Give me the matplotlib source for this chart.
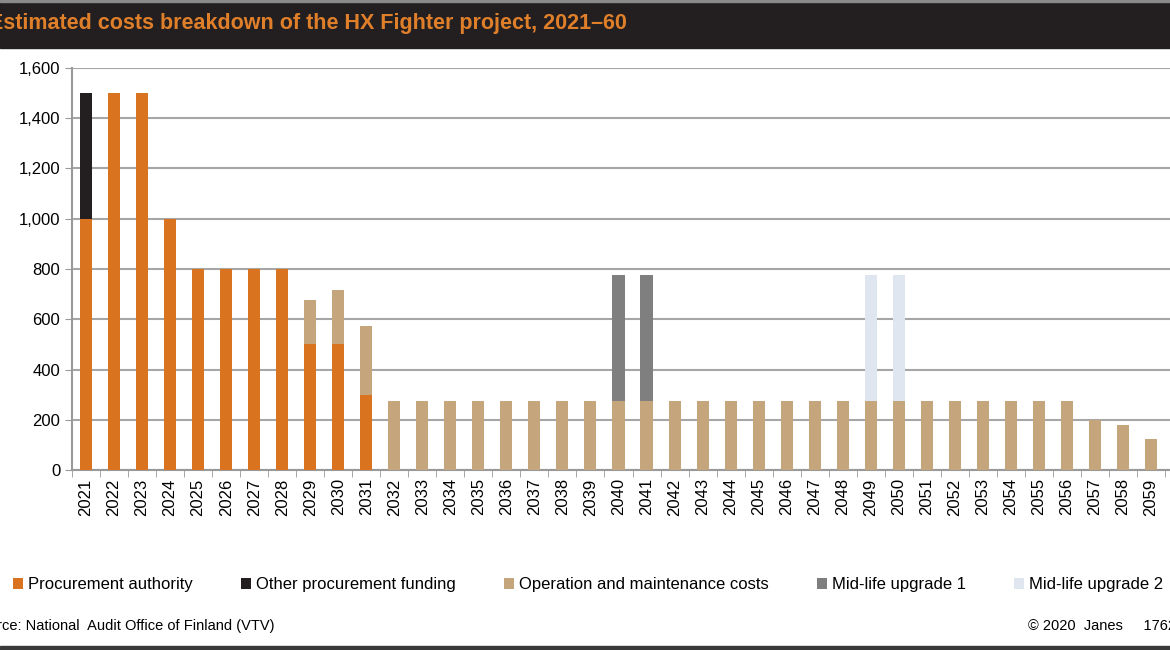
import matplotlib.pyplot as plt
import numpy as np

years = list(range(2021, 2061))
procurement = [1000, 1500, 1500, 1000, 800, 800, 800, 800, 500, 500, 300] + [0] * 29
other_funding = [500] + [0] * 39
om_costs = [0] * 8 + [175, 215, 275] + [275] * 25 + [200, 180, 125, 100]
mlu1 = [0] * 40
mlu1[years.index(2040)] = 500
mlu1[years.index(2041)] = 500
mlu2 = [0] * 40
mlu2[years.index(2049)] = 500
mlu2[years.index(2050)] = 500

series = [
    ("Procurement authority", procurement, "#d9731f"),
    ("Other procurement funding", other_funding, "#231f20"),
    ("Operation and maintenance costs", om_costs, "#c4a57c"),
    ("Mid-life upgrade 1", mlu1, "#7f7f7f"),
    ("Mid-life upgrade 2", mlu2, "#dfe6f0"),
]

W, H = 1170, 650
fig = plt.figure(figsize=(W / 100, H / 100), dpi=100)
plt.rcParams['font.family'] = ['Liberation Sans', 'DejaVu Sans']

# title bar
fig.patches.append(plt.Rectangle((0, 1 - 48 / H), 1, 48 / H, transform=fig.transFigure,
                                 color="#231f20", zorder=0))
fig.patches.append(plt.Rectangle((0, 1 - 2 / H), 1, 2 / H, transform=fig.transFigure,
                                 color="#8a8a8a", zorder=1))
fig.text(-0.009, 1 - 24 / H, "Estimated costs breakdown of the HX Fighter project, 2021\u201360",
         color="#e07f2a", fontsize=15.5, fontweight="bold", va="center", ha="left")

ax = fig.add_axes([72 / W, 1 - 470 / H, 1121 / W, 402 / H])
x = np.array(years)
bottom = np.zeros(len(years))
for name, vals, col in series:
    v = np.array(vals, dtype=float)
    ax.bar(x, v, 0.43, bottom=bottom, color=col, label=name, zorder=3)
    bottom += v

ax.set_xlim(2020.5, 2060.5)
ax.set_ylim(0, 1600)
ax.set_yticks(range(0, 1601, 200))
ax.set_yticklabels([f"{t:,}" for t in range(0, 1601, 200)], fontsize=12)
ax.set_xticks(years)
ax.set_xticklabels([str(y) for y in years], rotation=90, fontsize=12)
ax.set_xticks(np.arange(2020.5, 2061, 1), minor=True)
ax.tick_params(axis="x", which="major", length=0, pad=6)
ax.tick_params(axis="x", which="minor", length=5, color="#999999")
ax.tick_params(axis="y", length=5, color="#999999")
ax.grid(axis="y", color="#a6a6a6", linewidth=1.5, zorder=0)
for s in ["top", "right"]:
    ax.spines[s].set_visible(False)
for s in ["left", "bottom"]:
    ax.spines[s].set_color("#999999")
    ax.spines[s].set_linewidth(1.5)

handles, labels = ax.get_legend_handles_labels()
leg = fig.legend(handles, labels, loc="center left", bbox_to_anchor=(-0.002, 1 - 585 / H),
                 ncol=5, frameon=False, fontsize=12, handlelength=0.6, handleheight=0.6,
                 handletextpad=0.3, columnspacing=2.9)

fig.text(-0.025, 1 - 626 / H, "Source: National  Audit Office of Finland (VTV)", fontsize=10.5,
         va="center")
fig.text(1.005, 1 - 626 / H, "\u00a9 2020  Janes     1762", fontsize=10.5, va="center", ha="right")
fig.patches.append(plt.Rectangle((0, 0), 1, 4 / H, transform=fig.transFigure, color="#3a3a3a"))

fig.savefig("out.png", dpi=100)
